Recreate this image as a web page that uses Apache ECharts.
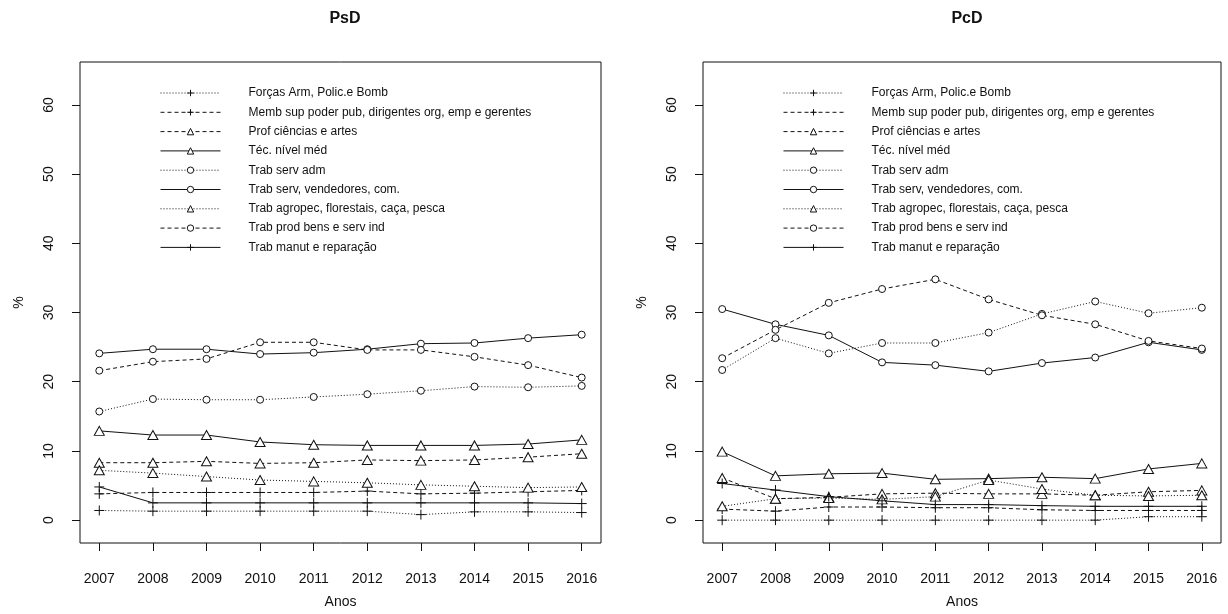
<!DOCTYPE html>
<html>
<head>
<meta charset="utf-8">
<script src="https://cdn.jsdelivr.net/npm/echarts@6/dist/echarts.min.js"></script>
<style>
  html, body { margin: 0; padding: 0; background: #fff; }
  #chart { width: 1228px; height: 614px; }
</style>
</head>
<body>
<div id="chart"></div>
<script>
// Occupational groups, share (%) by year — two panels: PsD and PcD
const years = [2007, 2008, 2009, 2010, 2011, 2012, 2013, 2014, 2015, 2016];
const yTicks = [0, 10, 20, 30, 40, 50, 60];

const groupNames = [
  'Forças Arm, Polic.e Bomb',
  'Memb sup poder pub, dirigentes org, emp e gerentes',
  'Prof ciências e artes',
  'Téc. nível méd',
  'Trab serv adm',
  'Trab serv, vendedores, com.',
  'Trab agropec, florestais, caça, pesca',
  'Trab prod bens e serv ind',
  'Trab manut e reparação'
];

// PsD
const psdForcas   = [1.4, 1.3, 1.3, 1.3, 1.3, 1.3, 0.8, 1.2, 1.2, 1.1];
const psdMemb     = [3.8, 4.0, 4.0, 4.0, 4.0, 4.2, 3.8, 3.9, 4.1, 4.3];
const psdProf     = [8.3, 8.3, 8.5, 8.2, 8.3, 8.7, 8.6, 8.7, 9.1, 9.6];
const psdTec      = [12.9, 12.3, 12.3, 11.3, 10.9, 10.8, 10.8, 10.8, 11.0, 11.6];
const psdServAdm  = [15.7, 17.5, 17.4, 17.4, 17.8, 18.2, 18.7, 19.3, 19.2, 19.4];
const psdVend     = [24.1, 24.7, 24.7, 24.0, 24.2, 24.7, 25.5, 25.6, 26.3, 26.8];
const psdAgro     = [7.2, 6.8, 6.3, 5.8, 5.6, 5.4, 5.1, 4.9, 4.7, 4.8];
const psdProd     = [21.6, 22.9, 23.3, 25.7, 25.7, 24.6, 24.6, 23.6, 22.4, 20.6];
const psdManut    = [4.8, 2.5, 2.5, 2.5, 2.5, 2.5, 2.5, 2.5, 2.5, 2.4];

// PcD
const pcdForcas   = [0, 0, 0, 0, 0, 0, 0, 0, 0.5, 0.5];
const pcdMemb     = [1.6, 1.3, 1.9, 1.9, 1.8, 1.8, 1.5, 1.4, 1.4, 1.4];
const pcdProf     = [6.1, 3.1, 3.3, 3.8, 3.9, 3.8, 3.8, 3.6, 4.1, 4.3];
const pcdTec      = [9.9, 6.4, 6.7, 6.8, 5.9, 6.0, 6.2, 6.0, 7.4, 8.2];
const pcdServAdm  = [21.7, 26.3, 24.1, 25.6, 25.6, 27.1, 29.8, 31.6, 29.9, 30.7];
const pcdVend     = [30.5, 28.3, 26.7, 22.8, 22.4, 21.5, 22.7, 23.5, 25.7, 24.6];
const pcdAgro     = [2.0, 3.1, 3.2, 3.0, 3.4, 5.8, 4.5, 3.6, 3.5, 3.6];
const pcdProd     = [23.4, 27.5, 31.4, 33.4, 34.8, 31.9, 29.6, 28.3, 25.9, 24.8];
const pcdManut    = [5.3, 4.35, 3.4, 2.8, 2.25, 2.25, 2.1, 2.0, 2.0, 2.0];

const psdValues = [psdForcas, psdMemb, psdProf, psdTec, psdServAdm, psdVend, psdAgro, psdProd, psdManut];
const pcdValues = [pcdForcas, pcdMemb, pcdProf, pcdTec, pcdServAdm, pcdVend, pcdAgro, pcdProd, pcdManut];

// line type and marker for each group
const PLUS = 'path://M0,5H10M5,0V10';
const DOT = [1, 2];
const DASH = [4, 3];
const styles = [
  { dash: DOT,     symbol: PLUS },
  { dash: DASH,    symbol: PLUS },
  { dash: DASH,    symbol: 'triangle' },
  { dash: 'solid', symbol: 'triangle' },
  { dash: DOT,     symbol: 'circle' },
  { dash: 'solid', symbol: 'circle' },
  { dash: DOT,     symbol: 'triangle' },
  { dash: DASH,    symbol: 'circle' },
  { dash: 'solid', symbol: PLUS }
];

const FONT = '"Liberation Sans", Arial, sans-serif';
const INK = '#111';

function symbolSizeFor(sym) {
  if (sym === PLUS) return 10;
  if (sym === 'triangle') return [10, 9];
  return 7;
}

function buildSeries(values, panel) {
  return values.map((vals, i) => {
    const sym = styles[i].symbol;
    return {
      name: groupNames[i],
      type: 'line',
      xAxisIndex: panel,
      yAxisIndex: panel,
      data: years.map((y, k) => [y, vals[k]]),
      symbol: sym,
      symbolSize: symbolSizeFor(sym),
      showAllSymbol: true,
      animation: false,
      itemStyle: {
        color: sym === PLUS ? 'transparent' : '#fff',
        borderColor: INK,
        borderWidth: 1
      },
      lineStyle: { color: INK, width: 1, type: styles[i].dash },
      emphasis: { disabled: true }
    };
  });
}

function xAxisFor(idx) {
  return {
    type: 'value', gridIndex: idx, min: 2006.64, max: 2016.36,
    axisLine: { show: false, onZero: false },
    splitLine: { show: false },
    axisTick: { show: true, length: 8, customValues: years, lineStyle: { color: INK } },
    axisLabel: { customValues: years, margin: 29, fontSize: 14, color: INK, fontFamily: FONT,
                 formatter: v => String(v) },
    name: 'Anos', nameLocation: 'middle', nameGap: 52,
    nameTextStyle: { fontSize: 14, color: INK, fontFamily: FONT }
  };
}

function yAxisFor(idx) {
  return {
    type: 'value', gridIndex: idx, min: -3.3, max: 66.2,
    axisLine: { show: false, onZero: false },
    splitLine: { show: false },
    axisTick: { show: true, length: 8, customValues: yTicks, lineStyle: { color: INK } },
    axisLabel: { customValues: yTicks, rotate: 90, margin: 24, fontSize: 14, color: INK, fontFamily: FONT },
    name: '%', nameLocation: 'middle', nameGap: 54, nameRotate: 90,
    nameTextStyle: { fontSize: 14, color: INK, fontFamily: FONT }
  };
}

function legendFor(left) {
  return {
    data: groupNames,
    orient: 'vertical',
    left: left, top: 87,
    padding: 0,
    itemWidth: 60, itemHeight: 8, itemGap: 7.3,
    selectedMode: false,
    lineStyle: { width: 1 },
    itemStyle: { borderWidth: 1 },
    formatter: '{t|{name}}',
    textStyle: {
      fontSize: 12, color: INK, fontFamily: FONT,
      rich: { t: { fontSize: 12, color: INK, fontFamily: FONT, lineHeight: 14, padding: [0, 0, 0, 23] } }
    }
  };
}

const chart = echarts.init(document.getElementById('chart'), null, { renderer: 'canvas' });
chart.setOption({
  backgroundColor: '#fff',
  animation: false,
  title: [
    { text: 'PsD', left: 340, top: 6, textAlign: 'center',
      textStyle: { fontSize: 16, fontWeight: 'bold', color: INK, fontFamily: FONT } },
    { text: 'PcD', left: 962, top: 6, textAlign: 'center',
      textStyle: { fontSize: 16, fontWeight: 'bold', color: INK, fontFamily: FONT } }
  ],
  grid: [
    { left: 80, top: 62, width: 521, height: 484, show: true, borderColor: INK, borderWidth: 1, backgroundColor: 'transparent' },
    { left: 703, top: 62, width: 518, height: 484, show: true, borderColor: INK, borderWidth: 1, backgroundColor: 'transparent' }
  ],
  xAxis: [xAxisFor(0), xAxisFor(1)],
  yAxis: [yAxisFor(0), yAxisFor(1)],
  legend: [legendFor(160), legendFor(783)],
  series: buildSeries(psdValues, 0).concat(buildSeries(pcdValues, 1))
});
</script>
</body>
</html>
